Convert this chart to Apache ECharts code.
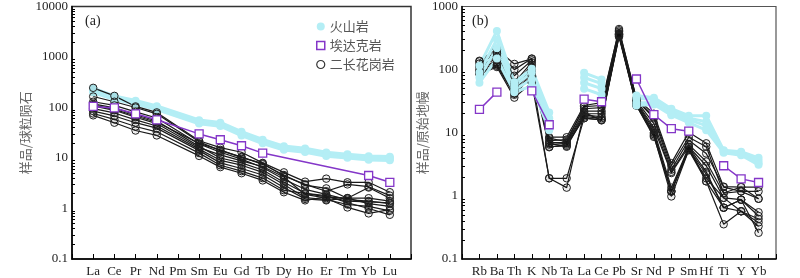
<!DOCTYPE html>
<html>
<head>
<meta charset="utf-8">
<script src="https://cdn.jsdelivr.net/npm/echarts@6/dist/echarts.min.js"></script>
<style>
  html, body { margin: 0; padding: 0; background: #fff; }
  #chart { width: 800px; height: 278px; }
</style>
</head>
<body>
<div id="chart"></div>
<script>
// 稀土元素 (a) 和 微量元素 (b)
const reeElements = ['La', 'Ce', 'Pr', 'Nd', 'Pm', 'Sm', 'Eu', 'Gd', 'Tb', 'Dy', 'Ho', 'Er', 'Tm', 'Yb', 'Lu']
const traceElements = ['Rb', 'Ba', 'Th', 'K', 'Nb', 'Ta', 'La', 'Ce', 'Pb', 'Sr', 'Nd', 'P', 'Sm', 'Hf', 'Ti', 'Y', 'Yb']

// 球粒陨石标准化
const reeVolcanic = [
  [240, 168, 136, 106, null, 56, 50, 33, 23, 17, 15.5, 12.8, 11.8, 10.8, 10.6],
  [228, 160, 130, 102, null, 53, 47, 31, 21.5, 16, 14.6, 12.2, 11.2, 10.2, 10],
  [214, 152, 124, 97, null, 50, 45, 29.5, 20.5, 15.2, 14, 11.6, 10.6, 9.7, 9.5],
  [200, 145, 118, 92, null, 48, 43, 28, 19.5, 14.5, 13.2, 11, 10.1, 9.2, 9],
]
const reeAdakite = [105, 98, 75, 57, null, 30, 23, 17.5, 12.5, null, null, null, null, 4.5, 3.3]
const reeGranite = [
  [245, 170, 105, 80, null, 22, 16, 13, 8, 5.2, 3.4, 3.9, 3.3, 3.3, 2.1],
  [165, 130, 100, 75, null, 21, 14, 10.5, 7.5, 4.6, 2.9, 2.5, 1.6, 1.6, 1.4],
  [130, 110, 82, 62, null, 19, 13, 9.5, 6.5, 3.8, 2.4, 1.9, 1.5, 1.4, 1.25],
  [118, 98, 72, 54, null, 17, 10, 8, 5.8, 3.3, 2.0, 1.7, 1.4, 1.35, 1.3],
  [107, 88, 64, 48, null, 16, 11.5, 8.8, 6.8, 4.2, 1.9, 1.6, 1.05, 0.8, 0.95],
  [95, 78, 57, 43, null, 15, 9, 7.2, 5.2, 3.0, 1.65, 1.5, 1.2, 1.1, 0.9],
  [85, 68, 50, 39, null, 14, 8, 6.2, 4.6, 2.6, 1.55, 1.45, 1.6, 1.25, 1.1],
  [76, 58, 42, 33, null, 12.5, 7.2, 5.5, 4.0, 2.3, 2.0, 1.8, 1.3, 1.0, 0.75],
  [70, 50, 35, 28, null, 11, 6.6, 5.0, 3.6, 2.1, 1.45, 1.7, 1.6, 2.6, 1.6],
  [112, 92, 68, 51, null, 19.5, 14.5, 10.2, 7.8, 4.4, 3.0, 2.2, 3.0, 2.7, 1.8],
]

// 原始地幔标准化
const traceVolcanic = [
  [115, 410, 63, 103, 21, null, 89, 70, null, 39, 36, 24, 18.6, 18.6, 5.3, 5.0, 4.0],
  [90, 300, 55, 90, 17, null, 75, 60, null, 35, 34, 22, 17, 15, 5.0, 4.8, 3.6],
  [75, 220, 48, 70, 14, null, 62, 50, null, 30, 30, 20, 16, 13, 5.2, 4.6, 3.3],
  [62, 150, 44, 55, 11, null, 50, 40, null, 27, 28, 19, 14.5, 11, 4.8, 4.4, 3.1],
]
const traceAdakite = [23.4, 44, null, 46, 13.4, null, 34, 31, null, 71, 19.3, 11.6, 10.6, null, 3.0, 1.86, 1.63]
const traceGranite = [
  [138, 210, 123, 148, 8.5, 8.5, 27, 30, 420, 35, 20, 3.3, 10.2, 6.8, 1.4, 1.38, 1.38],
  [125, 180, 80, 140, 7.5, 7.8, 24, 25, 400, 33, 17, 2.6, 7.6, 4.7, 1.38, 1.18, 1.18],
  [115, 160, 62, 130, 7, 7, 22, 22, 380, 32, 14, 2.4, 6.5, 3.5, 1.1, 1.18, 0.9],
  [110, 150, 55, 120, 6.5, 6.8, 20, 20, 370, 31, 12, 2.3, 6, 3, 0.93, 0.87, 0.55],
  [100, 140, 48, 110, 6, 6.2, 19, 18, 360, 30, 11, 1.35, 5.9, 2.4, 0.65, 0.87, 0.48],
  [95, 130, 45, 100, 6.8, 6, 18, 17, 350, 29, 10, 1.2, 5.5, 2.2, 0.65, 0.57, 0.43],
  [90, 120, 42, 90, 5.9, 6.5, 17, 16, 340, 28, 9.5, 1.17, 5.3, 1.9, 0.93, 0.57, 0.38],
  [88, 115, 40, 80, 1.9, 1.35, 21, 15.7, 330, 27, 9, 0.98, 5.3, 1.7, 0.355, 0.57, 0.33],
  [85, 110, 36, 62, 1.9, 1.9, 17, 16, 360, 27, 8.6, 1.17, 5.9, 1.7, 0.65, 0.87, 0.26],
  [135, 190, 100, 150, 8.2, 7.2, 26, 27, 440, 34, 18, 3.0, 8.5, 6, 1.11, 1.38, 0.9],
]

const CYAN = '#b4eef5'
const PURPLE = '#8436c8'
const BLACK = '#1a1a1a'
const SERIF = 'Liberation Serif'
const CJK = 'Noto Sans CJK SC'

// 两端留空位置
function pad(arr) {
  return [null].concat(arr, [null])
}

// 对数轴次刻度 2..9
function minorTicks(lo, hi) {
  let list = []
  for (let e = lo; e < hi; e++) {
    for (let k = 2; k <= 9; k++) list.push(k * Math.pow(10, e))
  }
  return list
}

function volcanicSeries(data, axis, connect, width) {
  return {
    name: '火山岩', type: 'line', xAxisIndex: axis, yAxisIndex: axis * 2,
    data: pad(data), connectNulls: connect,
    symbol: 'circle', symbolSize: 8,
    itemStyle: { color: CYAN },
    lineStyle: { color: CYAN, width: width },
  }
}

function graniteSeries(data, axis) {
  return {
    name: '二长花岗岩', type: 'line', xAxisIndex: axis, yAxisIndex: axis * 2,
    data: pad(data), connectNulls: true,
    symbol: 'circle', symbolSize: 7.5,
    itemStyle: { color: 'rgba(0,0,0,0.06)', borderColor: '#222', borderWidth: 1 },
    lineStyle: { color: BLACK, width: 1.2 },
  }
}

function adakiteSeries(data, axis, connect) {
  return {
    name: '埃达克岩', type: 'line', xAxisIndex: axis, yAxisIndex: axis * 2,
    data: pad(data), connectNulls: connect,
    symbol: 'rect', symbolSize: 8,
    itemStyle: { color: '#fff', borderColor: PURPLE, borderWidth: 1.3 },
    lineStyle: { color: PURPLE, width: 1.5 },
    z: 5,
  }
}

function xAxisOf(grid, cats) {
  return {
    type: 'category', gridIndex: grid, boundaryGap: false,
    data: [''].concat(cats, ['']),
    axisLine: { lineStyle: { color: '#000', width: 1.5 } },
    axisTick: { inside: true, length: 5, interval: 0, lineStyle: { color: '#000' } },
    axisLabel: { interval: 0, margin: 6, color: '#222', fontFamily: SERIF, fontSize: 13 },
    splitLine: { show: false },
  }
}

function yAxisOf(grid, max, name, gap) {
  return {
    type: 'log', gridIndex: grid, logBase: 10, min: 0.1, max: max,
    name: name, nameLocation: 'middle', nameGap: gap, nameRotate: 90,
    nameTextStyle: { color: '#666', fontFamily: CJK, fontSize: 13 },
    axisLine: { show: true, lineStyle: { color: '#000', width: 1.5 } },
    axisTick: { inside: true, length: 6, lineStyle: { color: '#000' } },
    axisLabel: {
      margin: 4, color: '#222', fontFamily: SERIF, fontSize: 13,
      formatter: (v) => String(+v.toPrecision(6)),
    },
    splitLine: { show: false },
  }
}

function yMinorOf(grid, max, hiExp) {
  return {
    type: 'log', gridIndex: grid, logBase: 10, min: 0.1, max: max, position: 'left',
    axisLine: { show: false },
    axisTick: { show: true, inside: true, length: 3, customValues: minorTicks(-1, hiExp), lineStyle: { color: '#000' } },
    axisLabel: { show: false },
    splitLine: { show: false },
  }
}

let series = []
reeVolcanic.forEach((r) => series.push(volcanicSeries(r, 0, true, 3.5)))
reeGranite.forEach((r) => series.push(graniteSeries(r, 0)))
series.push(adakiteSeries(reeAdakite, 0, true))
// (b) 火山岩画在二长花岗岩之上
traceGranite.forEach((r) => series.push(graniteSeries(r, 1)))
traceVolcanic.forEach((r) => series.push(volcanicSeries(r, 1, false, 3)))
series.push(adakiteSeries(traceAdakite, 1, false))

const chart = echarts.init(document.getElementById('chart'), null, { renderer: 'canvas' })
chart.setOption({
  animation: false,
  backgroundColor: '#fff',
  title: [
    { text: '(a)', left: 80, top: 9, textStyle: { fontFamily: SERIF, fontSize: 14, fontWeight: 'normal', color: '#222' } },
    { text: '(b)', left: 467, top: 9, textStyle: { fontFamily: SERIF, fontSize: 14, fontWeight: 'normal', color: '#222' } },
  ],
  legend: {
    orient: 'vertical', left: 311, top: 15, itemGap: 6, itemWidth: 8, itemHeight: 8,
    textStyle: { fontFamily: CJK, fontSize: 13, color: '#555' },
    data: [
      { name: '火山岩', icon: 'circle', itemStyle: { color: CYAN, borderWidth: 0 } },
      { name: '埃达克岩', icon: 'rect', itemStyle: { color: '#fff', borderColor: PURPLE, borderWidth: 1.5 } },
      { name: '二长花岗岩', icon: 'circle', itemStyle: { color: '#fff', borderColor: '#333', borderWidth: 1.2 } },
    ],
  },
  grid: [
    { left: 72, top: 5, width: 339, height: 254, show: true, borderColor: '#333', borderWidth: 1.5 },
    { left: 462, top: 5, width: 314, height: 255, show: true, borderColor: '#555', borderWidth: 1.2 },
  ],
  xAxis: [xAxisOf(0, reeElements), xAxisOf(1, traceElements)],
  yAxis: [
    yAxisOf(0, 10000, '样品/球粒陨石', 37),
    yMinorOf(0, 10000, 4),
    yAxisOf(1, 1000, '样品/原始地幔', 20),
    yMinorOf(1, 1000, 3),
  ],
  series: series,
})
</script>
</body>
</html>
